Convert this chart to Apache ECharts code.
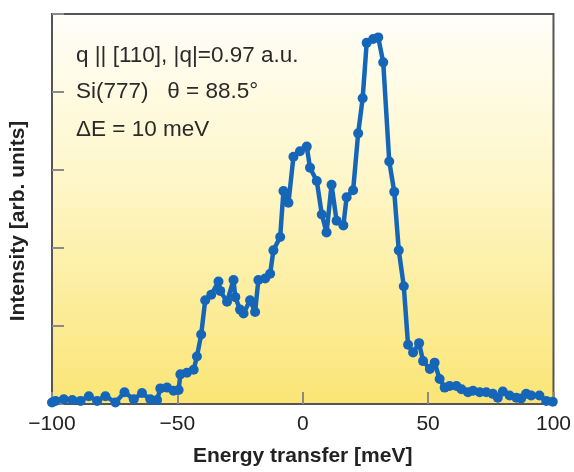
<!DOCTYPE html>
<html>
<head>
<meta charset="utf-8">
<style>
  html, body { margin: 0; padding: 0; background: #ffffff; }
  #chart { width: 574px; height: 472px; }
</style>
<script src="https://cdn.jsdelivr.net/npm/echarts@6/dist/echarts.min.js"></script>
</head>
<body>
<div id="chart"></div>
<script>
// Energy transfer (meV) of each measured point
const energy = [
  -100, -98.6, -95.3, -91.9, -88.6, -85.3, -82.0, -78.7, -74.7, -71.1,
  -67.4, -64.1, -60.8, -58.1, -56.8, -54.1, -51.5, -49.5, -48.8, -46.2,
  -43.5, -42.2, -40.5, -38.9, -36.5, -33.6, -32.9, -30.2, -27.6, -26.9,
  -25.0, -23.6, -21.0, -19.0, -17.7, -15.0, -13.0, -11.7, -9.0, -7.7,
  -5.7, -3.7, -1.1, 1.6, 2.9, 5.6, 7.6, 9.5, 11.5, 13.5,
  16.2, 17.5, 20.1, 22.1, 23.9, 25.5, 28.1, 30.1, 32.1, 34.5,
  36.5, 38.3, 40.3, 42.0, 44.0, 46.4, 48.0, 50.7, 52.6, 54.6,
  56.6, 58.6, 61.3, 63.3, 65.9, 67.9, 70.6, 73.2, 75.8, 77.8,
  79.8, 82.5, 85.2, 87.1, 89.1, 91.1, 94.4, 97.1, 99.7
];

// Scattered intensity (arb. units) at each energy transfer
const intensity = [
  0.02, 0.04, 0.06, 0.05, 0.04, 0.10, 0.04, 0.10, 0.02, 0.15,
  0.06, 0.14, 0.06, 0.05, 0.20, 0.21, 0.17, 0.18, 0.38, 0.40,
  0.44, 0.61, 0.89, 1.33, 1.40, 1.57, 1.45, 1.31, 1.59, 1.37,
  1.21, 1.16, 1.33, 1.18, 1.59, 1.61, 1.67, 1.97, 2.14, 2.73,
  2.58, 3.17, 3.24, 3.30, 3.03, 2.86, 2.43, 2.20, 2.81, 2.35,
  2.29, 2.65, 2.74, 3.47, 3.92, 4.63, 4.68, 4.70, 4.38, 3.11,
  2.72, 1.97, 1.51, 0.76, 0.66, 0.78, 0.55, 0.45, 0.53, 0.32,
  0.21, 0.23, 0.23, 0.19, 0.15, 0.17, 0.15, 0.15, 0.13, 0.08,
  0.16, 0.11, 0.08, 0.07, 0.13, 0.11, 0.11, 0.04, 0.03
];

// Axis ticks
const xTicks = [-100, -50, 0, 50, 100];
const yTicks = [0, 1, 2, 3, 4, 5];

// Measurement conditions printed inside the plot
const notes = [
  'q || [110], |q|=0.97 a.u.',
  'Si(777)   θ = 88.5°',
  'ΔE = 10 meV'
];

const points = energy.map((e, i) => [e, intensity[i]]);

const FONT = '"Liberation Sans", Arial, Helvetica, sans-serif';
const chart = echarts.init(document.getElementById('chart'), null, { renderer: 'canvas' });

chart.setOption({
  animation: false,
  backgroundColor: '#ffffff',
  grid: {
    left: 51, right: 20, top: 14, bottom: 64,
    show: true,
    borderColor: '#555555',
    borderWidth: 2,
    backgroundColor: {
      type: 'linear', x: 0, y: 0, x2: 0, y2: 1,
      colorStops: [
        { offset: 0, color: '#fffef9' },
        { offset: 0.4, color: '#fef7cc' },
        { offset: 1, color: '#fbe575' }
      ]
    }
  },
  xAxis: {
    type: 'value',
    min: xTicks[0],
    max: xTicks[xTicks.length - 1],
    interval: 50,
    name: 'Energy transfer [meV]',
    nameLocation: 'middle',
    nameGap: 42,
    nameTextStyle: { fontFamily: FONT, fontSize: 21, fontWeight: 'bold', color: '#222222' },
    axisLine: { show: true, onZero: false, lineStyle: { color: '#555555', width: 2 } },
    axisTick: { show: true, inside: true, length: 12, lineStyle: { color: '#8a8a8a', width: 2 } },
    axisLabel: {
      fontFamily: FONT, fontSize: 21, color: '#222222', margin: 10,
      formatter: v => (v < 0 ? '\u2212' + Math.abs(v) : String(v))
    },
    splitLine: { show: false }
  },
  yAxis: {
    type: 'value',
    min: yTicks[0],
    max: yTicks[yTicks.length - 1],
    interval: 1,
    name: 'Intensity [arb. units]',
    nameLocation: 'middle',
    nameGap: 23,
    nameTextStyle: {
      fontFamily: FONT, fontSize: 21, fontWeight: 'bold', color: '#222222',
      padding: [0, 24, 0, 0]
    },
    axisLine: { show: true, onZero: false, lineStyle: { color: '#555555', width: 2 } },
    axisTick: { show: true, inside: true, length: 12, lineStyle: { color: '#8a8a8a', width: 2 } },
    axisLabel: { show: false },
    splitLine: { show: false }
  },
  graphic: notes.map((t, i) => ({
    type: 'text',
    left: 76,
    top: [44, 80, 118][i],
    z: 10,
    style: { text: t, fontFamily: FONT, fontSize: 22.5, fill: '#2a2a2a' }
  })),
  series: [{
    type: 'line',
    data: points,
    lineStyle: { color: '#1566b8', width: 4.5 },
    itemStyle: { color: '#1566b8' },
    symbol: 'circle',
    symbolSize: 10,
    showSymbol: true,
    clip: false
  }]
});
</script>
</body>
</html>
